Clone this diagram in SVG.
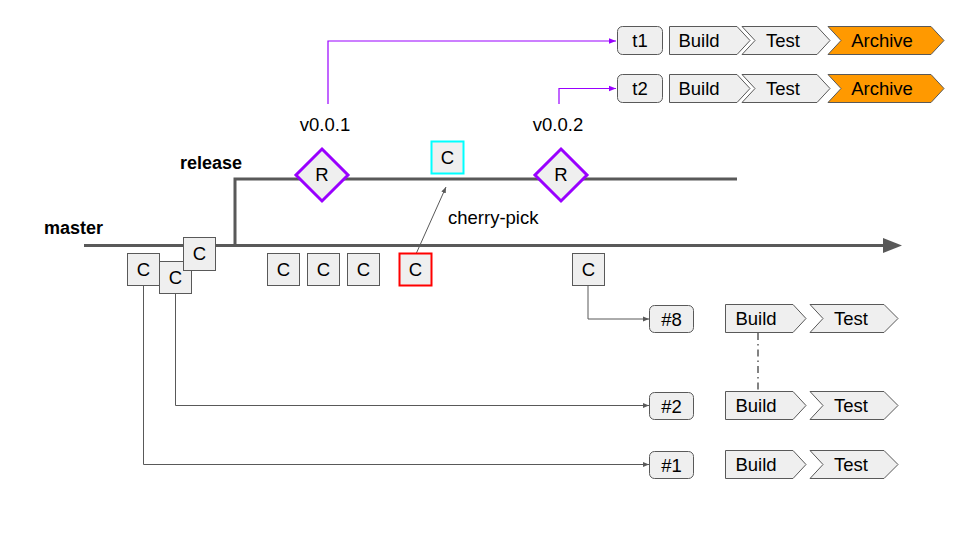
<svg xmlns="http://www.w3.org/2000/svg" width="960" height="540" viewBox="0 0 960 540">
<style>
text{font-family:"Liberation Sans",Arial,sans-serif;font-size:18.5px;fill:#000}
.b{font-weight:bold;font-size:18px}
.box{fill:#efefef;stroke:#595959;stroke-width:1}
.m{text-anchor:middle}
.branch{fill:none;stroke:#595959;stroke-width:3}
.con{fill:none;stroke:#595959;stroke-width:1}
.pcon{fill:none;stroke:#9900ff;stroke-width:1.2}
.orange{fill:#ff9900;stroke:#595959;stroke-width:1}
.dia{fill:#efefef;stroke:#9900ff;stroke-width:3}
</style>
<defs>
<marker id="ag" viewBox="0 0 10 10" refX="10" refY="5" markerWidth="6" markerHeight="6" orient="auto" markerUnits="userSpaceOnUse"><path d="M0,1 L10,5 L0,9 z" fill="#595959"/></marker>
<marker id="ap" viewBox="0 0 10 10" refX="10" refY="5" markerWidth="7" markerHeight="7" orient="auto" markerUnits="userSpaceOnUse"><path d="M0,1 L10,5 L0,9 z" fill="#9900ff"/></marker>
</defs>

<g id="branches">
<line class="branch" x1="84" y1="245.5" x2="885" y2="245.5"/>
<polygon points="883,238 902,245.5 883,253" fill="#595959"/>
<path class="branch" d="M235,245 V179 H737"/>
<text class="b" x="44" y="234">master</text>
<text class="b" x="180" y="169">release</text>
</g>

<g id="connectors">
<path class="pcon" d="M328,104 V41 H616" marker-end="url(#ap)"/>
<path class="pcon" d="M559,104 V88.5 H616" marker-end="url(#ap)"/>
<path class="con" d="M588,286 V319 H649" marker-end="url(#ag)"/>
<path class="con" d="M175.5,294 V405.5 H649" marker-end="url(#ag)"/>
<path class="con" d="M143.5,286 V464.5 H649" marker-end="url(#ag)"/>
<line class="con" x1="416" y1="254" x2="446" y2="187" marker-end="url(#ag)"/>
<line x1="758" y1="333" x2="758" y2="392" stroke="#595959" stroke-width="1.5" stroke-dasharray="7,4,1.5,4"/>
<text x="448" y="224">cherry-pick</text>
</g>

<g id="v001"><text class="m" x="325" y="131">v0.0.1</text></g>
<g id="v002"><text class="m" x="558" y="131">v0.0.2</text></g>

<g id="r1"><polygon class="dia" points="322,149 348,175 322,201 296,175"/><text class="m" x="322" y="181">R</text></g>
<g id="r2"><polygon class="dia" points="561,149 587,175 561,201 535,175"/><text class="m" x="561" y="181">R</text></g>

<g id="c-cyan"><rect x="431.5" y="141.5" width="32" height="32" fill="#efefef" stroke="#00ffff" stroke-width="2"/><text class="m" x="447.5" y="164">C</text></g>

<g id="c1"><rect class="box" x="127.5" y="253.5" width="32" height="32"/><text class="m" x="143.5" y="276">C</text></g>
<g id="c2"><rect class="box" x="159.5" y="261.5" width="32" height="32"/><text class="m" x="175.5" y="284">C</text></g>
<g id="c3"><rect class="box" x="183.5" y="237.5" width="32" height="33"/><text class="m" x="199.5" y="260">C</text></g>
<g id="c4"><rect class="box" x="267.5" y="253.5" width="32" height="32"/><text class="m" x="283.5" y="276">C</text></g>
<g id="c5"><rect class="box" x="307.5" y="253.5" width="32" height="32"/><text class="m" x="323.5" y="276">C</text></g>
<g id="c6"><rect class="box" x="347.5" y="253.5" width="32" height="32"/><text class="m" x="363.5" y="276">C</text></g>
<g id="c-red"><rect x="399.5" y="253.5" width="32" height="32" fill="#efefef" stroke="#ff0000" stroke-width="2"/><text class="m" x="415.5" y="276">C</text></g>
<g id="c8"><rect class="box" x="572.5" y="253.5" width="32" height="32"/><text class="m" x="588.5" y="276">C</text></g>

<g id="t1"><rect class="box" x="617.5" y="26.5" width="45" height="28" rx="5"/><text class="m" x="640" y="47">t1</text></g>
<g id="t1-build"><polygon class="box" points="669.5,26.5 737,26.5 750,40.5 737,54.5 669.5,54.5"/><text class="m" x="699" y="47">Build</text></g>
<g id="t1-test"><polygon class="box" points="742,26.5 817,26.5 830,40.5 817,54.5 742,54.5 755,40.5"/><text class="m" x="783" y="47">Test</text></g>
<g id="t1-archive"><polygon class="orange" points="828,26.5 931,26.5 944,40.5 931,54.5 828,54.5 841,40.5"/><text class="m" x="882" y="47">Archive</text></g>

<g id="t2"><rect class="box" x="617.5" y="74.5" width="45" height="28" rx="5"/><text class="m" x="640" y="95">t2</text></g>
<g id="t2-build"><polygon class="box" points="669.5,74.5 737,74.5 750,88.5 737,102.5 669.5,102.5"/><text class="m" x="699" y="95">Build</text></g>
<g id="t2-test"><polygon class="box" points="742,74.5 817,74.5 830,88.5 817,102.5 742,102.5 755,88.5"/><text class="m" x="783" y="95">Test</text></g>
<g id="t2-archive"><polygon class="orange" points="828,74.5 931,74.5 944,88.5 931,102.5 828,102.5 841,88.5"/><text class="m" x="882" y="95">Archive</text></g>

<g id="p8"><rect class="box" x="649.5" y="305.5" width="44" height="27" rx="5"/><text class="m" x="671.5" y="325.5">#8</text></g>
<g id="p8-build"><polygon class="box" points="725.5,304.5 793,304.5 806,318.5 793,332.5 725.5,332.5"/><text class="m" x="756" y="325">Build</text></g>
<g id="p8-test"><polygon class="box" points="810,304.5 884,304.5 898,318.5 884,332.5 810,332.5 823,318.5"/><text class="m" x="851" y="325">Test</text></g>

<g id="p2"><rect class="box" x="649.5" y="392.5" width="44" height="27" rx="5"/><text class="m" x="671.5" y="412.5">#2</text></g>
<g id="p2-build"><polygon class="box" points="725.5,391.5 793,391.5 806,405.5 793,419.5 725.5,419.5"/><text class="m" x="756" y="412">Build</text></g>
<g id="p2-test"><polygon class="box" points="810,391.5 884,391.5 898,405.5 884,419.5 810,419.5 823,405.5"/><text class="m" x="851" y="412">Test</text></g>

<g id="p1"><rect class="box" x="649.5" y="451.5" width="44" height="27" rx="5"/><text class="m" x="671.5" y="471.5">#1</text></g>
<g id="p1-build"><polygon class="box" points="725.5,450.5 793,450.5 806,464.5 793,478.5 725.5,478.5"/><text class="m" x="756" y="471">Build</text></g>
<g id="p1-test"><polygon class="box" points="810,450.5 884,450.5 898,464.5 884,478.5 810,478.5 823,464.5"/><text class="m" x="851" y="471">Test</text></g>
</svg>
